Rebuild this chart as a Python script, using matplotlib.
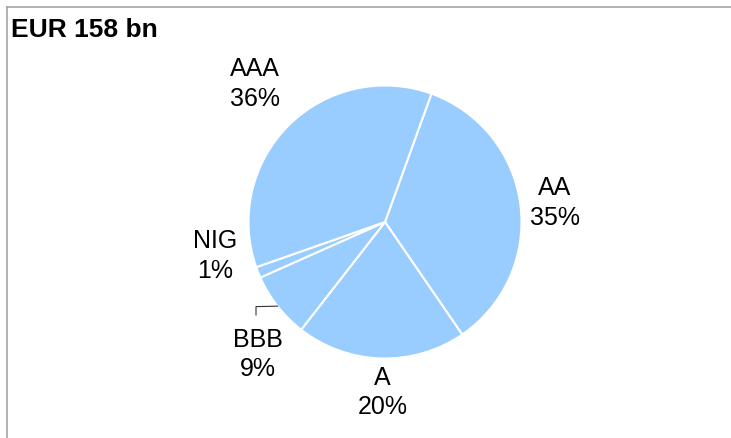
import numpy as np
import matplotlib
matplotlib.use("Agg")
import matplotlib.pyplot as plt
from matplotlib.lines import Line2D

# shares, clockwise from the AA wedge
categories = ["AA", "A", "BBB", "NIG", "AAA"]
shares = [34.9, 20.1, 7.8, 1.3, 35.9]
pct_labels = ["35%", "20%", "9%", "1%", "36%"]
title = "EUR 158 bn"

plt.rcParams["font.family"] = ["Liberation Sans", "DejaVu Sans"]

W, H = 731, 438
fig = plt.figure(figsize=(W / 100, H / 100), dpi=100)

# pie centre (385, 222) px, radius 136.5 px
cx, cy, r = 385, 222, 136.5
ax = fig.add_axes([(cx - r) / W, (H - cy - r) / H, 2 * r / W, 2 * r / H])
wedges, _ = ax.pie(shares, startangle=70.1, counterclock=False,
                   colors=["#99CCFF"] * len(shares),
                   wedgeprops=dict(edgecolor="white", linewidth=1.5))
ax.set_xlim(-1, 1)
ax.set_ylim(-1, 1)
ax.set_aspect("equal")
ax.axis("off")

# label positions (radius units, relative to centre)
label_pos = {
    "AA": (1.245, 0.14),
    "A": (-0.02, -1.25),
    "BBB": (-0.93, -0.97),
    "NIG": (-1.245, -0.25),
    "AAA": (-0.952, 1.01),
}
for cat, pct in zip(categories, pct_labels):
    x, y = label_pos[cat]
    ax.text(x, y, f"{cat}\n{pct}", ha="center", va="center", fontsize=18,
            linespacing=1.3, clip_on=False)

# leader line for BBB
w = wedges[categories.index("BBB")]
mid = np.deg2rad((w.theta1 + w.theta2) / 2)
ex, ey = np.cos(mid), np.sin(mid)
ax.add_line(Line2D([-0.945, -0.945, ex], [-0.681, -0.620, ey],
                   color="#333333", lw=0.8, clip_on=False))

fig.text(11 / W, 1 - 30 / H, title, fontsize=19, fontweight="bold",
         ha="left", va="center")

# frame lines (top and left only)
border = "#A6A6A6"
fig.add_artist(Line2D([7 / W, 1], [1 - 7 / H, 1 - 7 / H], color=border, lw=1.2,
                      transform=fig.transFigure))
fig.add_artist(Line2D([7 / W, 7 / W], [0, 1 - 7 / H], color=border, lw=1.2,
                      transform=fig.transFigure))

fig.savefig("out.png", dpi=100, facecolor="white")
